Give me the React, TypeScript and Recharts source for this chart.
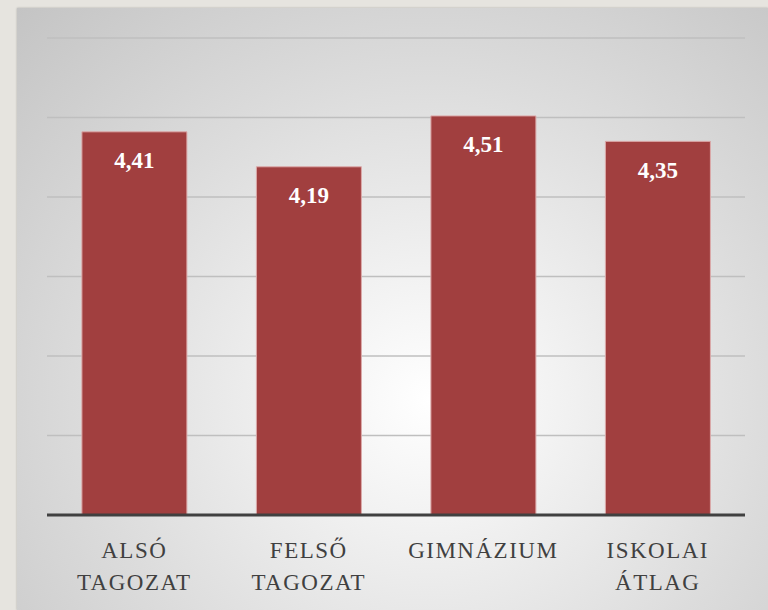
import React from 'react';
import { BarChart, Bar, XAxis, YAxis, CartesianGrid, LabelList } from 'recharts';

const categories = ['ALSÓ\nTAGOZAT', 'FELSŐ\nTAGOZAT', 'GIMNÁZIUM', 'ISKOLAI\nÁTLAG'];
const averages = [4.41, 4.19, 4.51, 4.35];
const yTicks = [2, 2.5, 3, 3.5, 4, 4.5, 5];

const data = categories.map((name, i) => ({ name, value: averages[i] }));

const SERIF = 'Liberation Serif';

const CategoryTick = (props: any) => {
  const { x, y, payload } = props;
  const lines = String(payload.value).split('\n');
  return (
    <text
      x={x}
      y={y}
      textAnchor="middle"
      fill="#404040"
      fontFamily={SERIF}
      fontSize={23}
      letterSpacing={1.5}
    >
      {lines.map((line, i) => (
        <tspan key={i} x={x} dy={i === 0 ? 43 : 32}>
          {line}
        </tspan>
      ))}
    </text>
  );
};

const ValueLabel = (props: any) => {
  const { x, y, width, value } = props;
  return (
    <text
      x={x + width / 2}
      y={y + 29}
      textAnchor="middle"
      dominantBaseline="central"
      fill="#ffffff"
      fontFamily={SERIF}
      fontWeight="bold"
      fontSize={23}
    >
      {String(value).replace('.', ',')}
    </text>
  );
};

export default function App() {
  return (
    <div
      style={{
        position: 'absolute',
        left: 0,
        top: 0,
        width: 768,
        height: 610,
        background: '#e6e4df',
        overflow: 'hidden',
      }}
    >
      <div
        style={{
          position: 'absolute',
          left: 17,
          top: 8,
          width: 751,
          height: 602,
          background:
            'radial-gradient(ellipse farthest-corner at 55% 65%, #ffffff 0%, #f2f2f2 22%, #dcdcdc 58%, #c4c4c4 100%)',
          boxShadow: '0 0 2px rgba(0,0,0,0.25)',
        }}
      />
      <div style={{ position: 'absolute', left: 0, top: 0 }}>
        <BarChart
          width={768}
          height={610}
          data={data}
          margin={{ top: 38, right: 23, bottom: 0, left: 47 }}
          barCategoryGap="20%"
        >
          <CartesianGrid vertical={false} stroke="#bfbfbf" strokeWidth={1.5} />
          <YAxis hide width={0} domain={[2, 5]} ticks={yTicks} />
          <XAxis
            dataKey="name"
            height={95}
            interval={0}
            tickLine={false}
            tickSize={0}
            tickMargin={0}
            axisLine={{ stroke: '#404040', strokeWidth: 3 }}
            tick={<CategoryTick />}
          />
          <Bar
            dataKey="value"
            fill="#a13f3f"
            stroke="#dcaaaa"
            strokeWidth={1}
            isAnimationActive={false}
          >
            <LabelList dataKey="value" content={<ValueLabel />} />
          </Bar>
        </BarChart>
      </div>
    </div>
  );
}
